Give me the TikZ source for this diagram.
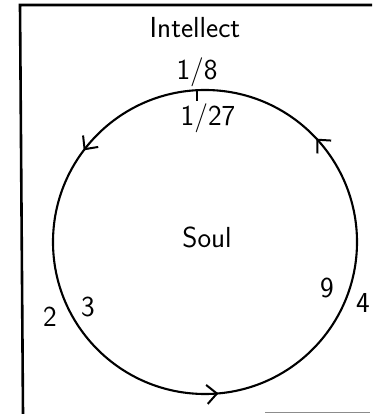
\documentclass[tikz,border=0pt]{standalone}
\usepackage{tikz}
\usetikzlibrary{arrows.meta,calc,decorations.markings}

\begin{document}
\begin{tikzpicture}[x=1pt, y=1pt,
  every node/.style={font=\sffamily\fontsize{29}{32}\selectfont, inner sep=0pt},
  ln/.style={line width=2.1pt},
  tp/.tip={Straight Barb[length=10pt, width=19pt, line width=2pt]},
  flow/.style={ln, postaction={decorate}, decoration={markings,
     mark=at position 0.119 with {\arrow{tp}},
     mark=at position 0.397 with {\arrow{tp}},
     mark=at position 0.764 with {\arrow{tp}}}}]
  \useasboundingbox (0,0) rectangle (372,414);
  % frame
  \coordinate (tl) at (20,409);
  \coordinate (tr) at (372,409);
  \coordinate (bl) at (23,0);
  \draw[line width=2.6pt] (tr) -- (tl) -- (bl);
  \coordinate (g1) at (265,1.5);
  \coordinate (g2) at (370,1.5);
  \draw[line width=1pt, black!45] (g1) -- (g2);
  % circle
  \coordinate (o) at (205,172);
  \draw[flow] (o) circle[radius=152pt];
  \coordinate (top) at ($(o)+(93:152pt)$);
  \draw[ln] (top) -- ++(0,-11);
  % labels
  \node (intellect) at (195,386) {Intellect};
  \node (eighth) at (197,342) {1/8};
  \node (twentyseventh) at (208,296) {1/27};
  \node (soul) at (207,177) {Soul};
  \node (two) at (50,97) {2};
  \node (three) at (88,107) {3};
  \node (nine) at (327,126) {9};
  \node (four) at (363,111) {4};
\end{tikzpicture}
\end{document}
